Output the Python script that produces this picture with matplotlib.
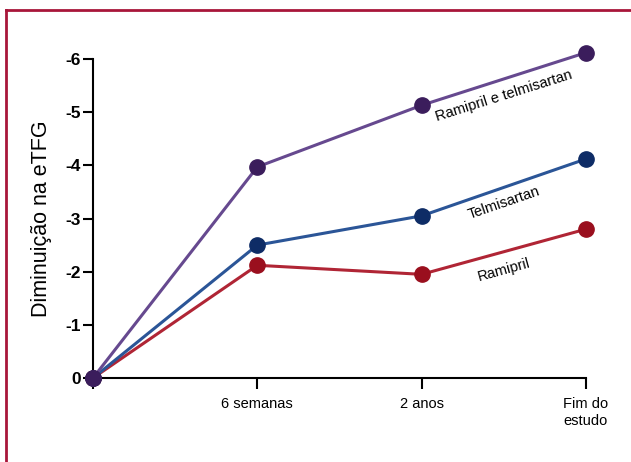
import numpy as np
import matplotlib
matplotlib.use('Agg')
import matplotlib.pyplot as plt
from matplotlib.lines import Line2D

plt.rcParams['font.family'] = ['Liberation Sans', 'DejaVu Sans']

# data
x_labels = ['', '6 semanas', '2 anos', 'Fim do\nestudo']
x_pos = [0, 1, 2, 3]
combo = [0, -3.97, -5.13, -6.12]      # Ramipril e telmisartan
telmi = [0, -2.50, -3.05, -4.12]      # Telmisartan
rami = [0, -2.12, -1.95, -2.80]       # Ramipril
y_ticks = [0, -1, -2, -3, -4, -5, -6]
y_ticklabels = ['0', '-1', '-2', '-3', '-4', '-5', '-6']

fig = plt.figure(figsize=(6.31, 4.62), dpi=100)
ax = fig.add_axes([93/631, 1-378/462, (586-93)/631, (378-59)/462])

# red frame (left + top only)
frame_col = '#a8163a'
fig.add_artist(Line2D([6/631, 6/631], [0, 1-10/462], transform=fig.transFigure, color=frame_col, lw=2))
fig.add_artist(Line2D([6/631, 1], [1-10/462, 1-10/462], transform=fig.transFigure, color=frame_col, lw=2))

series = [
    (rami, '#b02535', '#9a0f1e'),
    (telmi, '#2b5597', '#0e2c66'),
    (combo, '#66498f', '#3b1d5c'),
]
for vals, lc, mc in series:
    ax.plot(x_pos, vals, '-', color=lc, lw=2.2, zorder=2, clip_on=False)
    ax.plot(x_pos, vals, 'o', color=mc, ms=11, zorder=3, clip_on=False)

ax.set_xlim(0, 3)
ax.set_ylim(0, -6)
ax.set_xticks(x_pos)
ax.set_xticklabels(x_labels, fontsize=10.5)
ax.set_yticks(y_ticks)
ax.set_yticklabels(y_ticklabels, fontsize=12.5, fontweight='bold')
ax.tick_params(axis='x', length=8, width=1.5, pad=6)
ax.tick_params(axis='y', length=7, width=1.5, pad=2)
for s in ['top', 'right']:
    ax.spines[s].set_visible(False)
for s in ['left', 'bottom']:
    ax.spines[s].set_linewidth(1.5)
ax.set_ylabel('Diminuição na eTFG', fontsize=15.5, labelpad=9)

# labels along lines
ax.text(2.5, -5.3, 'Ramipril e telmisartan', rotation=17.5, fontsize=10.5,
        ha='center', va='center', rotation_mode='anchor')
ax.text(2.5, -3.3, 'Telmisartan', rotation=19, fontsize=10.5,
        ha='center', va='center', rotation_mode='anchor')
ax.text(2.5, -2.03, 'Ramipril', rotation=15.5, fontsize=10.5,
        ha='center', va='center', rotation_mode='anchor')

fig.savefig('out.png', dpi=100)
